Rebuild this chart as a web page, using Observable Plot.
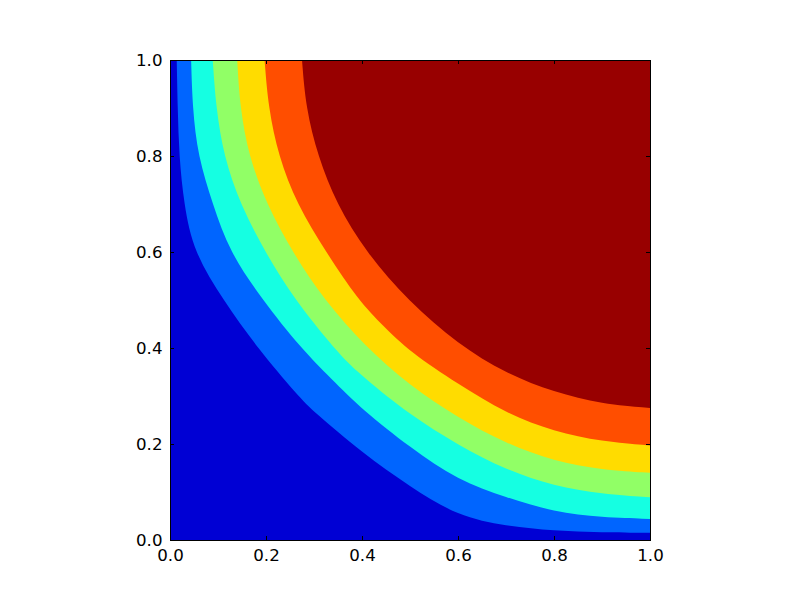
<!DOCTYPE html>
<html><head><meta charset="utf-8">
<script src="https://cdn.jsdelivr.net/npm/d3@7"></script>
<script src="https://cdn.jsdelivr.net/npm/@observablehq/plot@0.6"></script>
<style>html,body{margin:0;padding:0;background:#fff;} svg{display:block}</style>
</head><body><div id="chart"></div>
<script>
// Filled-contour band colours (jet), lowest band first
const bandColors = ["#0000D4", "#0065FF", "#15FFE2", "#91FF66", "#FFDC00", "#FF4E00", "#980000"];

// Contour boundaries, [x, y] points, x increasing
const boundary1 = [[0.014,1],[0.016,0.9],[0.019,0.8],[0.029,0.7],[0.049,0.6],[0.111,0.5],[0.182,0.4],[0.267,0.3],[0.3,0.267],[0.4,0.182],[0.5,0.111],[0.6,0.049],[0.7,0.029],[0.8,0.019],[0.9,0.016],[1,0.015]];
const boundary2 = [[0.044,1],[0.047,0.9],[0.058,0.8],[0.089,0.7],[0.124,0.6],[0.193,0.5],[0.272,0.4],[0.336,0.336],[0.4,0.272],[0.5,0.193],[0.6,0.124],[0.7,0.089],[0.8,0.058],[0.9,0.047],[1,0.044]];
const boundary3 = [[0.089,1],[0.096,0.9],[0.112,0.8],[0.146,0.7],[0.198,0.6],[0.26,0.5],[0.342,0.4],[0.37,0.37],[0.4,0.342],[0.5,0.26],[0.6,0.198],[0.7,0.146],[0.8,0.112],[0.9,0.096],[1,0.089]];
const boundary4 = [[0.14,1],[0.146,0.9],[0.164,0.8],[0.201,0.7],[0.255,0.6],[0.321,0.5],[0.405,0.405],[0.5,0.321],[0.6,0.255],[0.7,0.201],[0.8,0.164],[0.9,0.146],[1,0.14]];
const boundary5 = [[0.197,1],[0.205,0.9],[0.226,0.8],[0.264,0.7],[0.325,0.6],[0.392,0.5],[0.445,0.445],[0.5,0.392],[0.6,0.325],[0.7,0.264],[0.8,0.226],[0.9,0.205],[1,0.197]];
const boundary6 = [[0.275,1],[0.283,0.9],[0.308,0.8],[0.347,0.7],[0.408,0.6],[0.497,0.497],[0.6,0.408],[0.7,0.347],[0.8,0.308],[0.9,0.283],[1,0.275]];

const tickValues = [0, 0.2, 0.4, 0.6, 0.8, 1.0];
const tickLabels = ["0.0", "0.2", "0.4", "0.6", "0.8", "1.0"];
const axisDomain = [0, 1];

const boundaries = [boundary1, boundary2, boundary3, boundary4, boundary5, boundary6];
const fmt = d => tickLabels[tickValues.indexOf(d)];

const W = 800, H = 600, mL = 170, mR = 150, mT = 60, mB = 60;
const frameW = W - mL - mR, frameH = H - mT - mB, tickLen = 4;
const font = {fontSize: 16.67, fontFamily: "DejaVu Sans"};

const marks = [Plot.frame({fill: bandColors[0], stroke: null})];
boundaries.forEach((b, k) => {
  marks.push(Plot.areaY(b, {x: d => d[0], y1: d => d[1], y2: axisDomain[1], fill: bandColors[k + 1], curve: "basis", clip: true}));
});
marks.push(
  Plot.tickX(tickValues, {x: d => d, insetTop: frameH - tickLen, stroke: "black"}),
  Plot.tickX(tickValues, {x: d => d, insetBottom: frameH - tickLen, stroke: "black"}),
  Plot.tickY(tickValues, {y: d => d, insetRight: frameW - tickLen, stroke: "black"}),
  Plot.tickY(tickValues, {y: d => d, insetLeft: frameW - tickLen, stroke: "black"}),
  Plot.axisX(tickValues, {anchor: "bottom", tickSize: 0, tickPadding: 9, tickFormat: fmt, ...font, fill: "black"}),
  Plot.axisY(tickValues, {anchor: "left", tickSize: 0, tickPadding: 8, tickFormat: fmt, ...font, fill: "black"}),
  Plot.frame({stroke: "black", strokeWidth: 1})
);

const chart = Plot.plot({
  width: W, height: H,
  marginLeft: mL, marginRight: mR, marginTop: mT, marginBottom: mB,
  x: {domain: axisDomain, label: null},
  y: {domain: axisDomain, label: null},
  style: {background: "white", fontFamily: "DejaVu Sans"},
  marks
});
document.getElementById("chart").appendChild(chart);
</script>
</body></html>
